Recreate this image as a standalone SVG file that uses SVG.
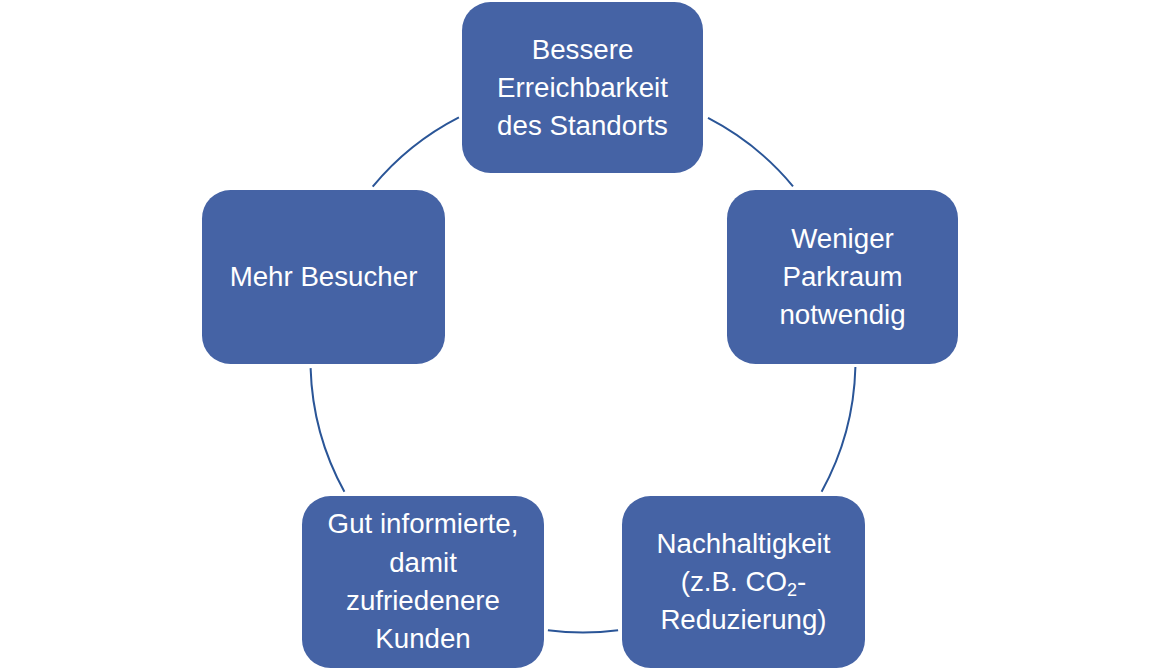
<svg xmlns="http://www.w3.org/2000/svg" width="1161" height="671" viewBox="0 0 1161 671">
<style>
.box{fill:#4563A5;}
.lbl{font-family:"Liberation Sans",Arial,sans-serif;font-size:27.7px;fill:#ffffff;text-anchor:middle;}
.arc{fill:none;stroke:#2A5597;stroke-width:2;}
</style>
<rect width="1161" height="671" fill="#ffffff"/>
<g id="connectors">
<path class="arc" d="M708,117.9 A272.5,272.5 0 0 1 793,186.3"/>
<path class="arc" d="M855.4,367 A272.5,272.5 0 0 1 821.6,491.7"/>
<path class="arc" d="M618.1,630.2 A272.5,272.5 0 0 1 547.9,630.2"/>
<path class="arc" d="M344.4,491.7 A272.5,272.5 0 0 1 310.6,368.1"/>
<path class="arc" d="M372.7,186.7 A272.5,272.5 0 0 1 458.9,117.4"/>
</g>
<g id="node-erreichbarkeit">
<rect class="box" x="462" y="2" width="241" height="171" rx="28.5"/>
<text class="lbl"><tspan x="582.5" y="59">Bessere</tspan><tspan x="582.5" y="97">Erreichbarkeit</tspan><tspan x="582.5" y="135">des Standorts</tspan></text>
</g>
<g id="node-parkraum">
<rect class="box" x="727" y="190" width="231" height="174" rx="28.5"/>
<text class="lbl"><tspan x="842.5" y="248">Weniger</tspan><tspan x="842.5" y="286">Parkraum</tspan><tspan x="842.5" y="324">notwendig</tspan></text>
</g>
<g id="node-nachhaltigkeit">
<rect class="box" x="622" y="496" width="243" height="172" rx="28.5"/>
<text class="lbl"><tspan x="743.5" y="553">Nachhaltigkeit</tspan><tspan x="743.5" y="591">(z.B. CO<tspan font-size="18" dy="5">2</tspan><tspan dy="-5">-</tspan></tspan><tspan x="743.5" y="629">Reduzierung)</tspan></text>
</g>
<g id="node-kunden">
<rect class="box" x="302" y="496" width="242" height="172" rx="28.5"/>
<text class="lbl"><tspan x="423" y="533">Gut informierte,</tspan><tspan x="423" y="572">damit</tspan><tspan x="423" y="610">zufriedenere</tspan><tspan x="423" y="648">Kunden</tspan></text>
</g>
<g id="node-besucher">
<rect class="box" x="202" y="190" width="243" height="174" rx="28.5"/>
<text class="lbl" x="323.5" y="286">Mehr Besucher</text>
</g>
</svg>
